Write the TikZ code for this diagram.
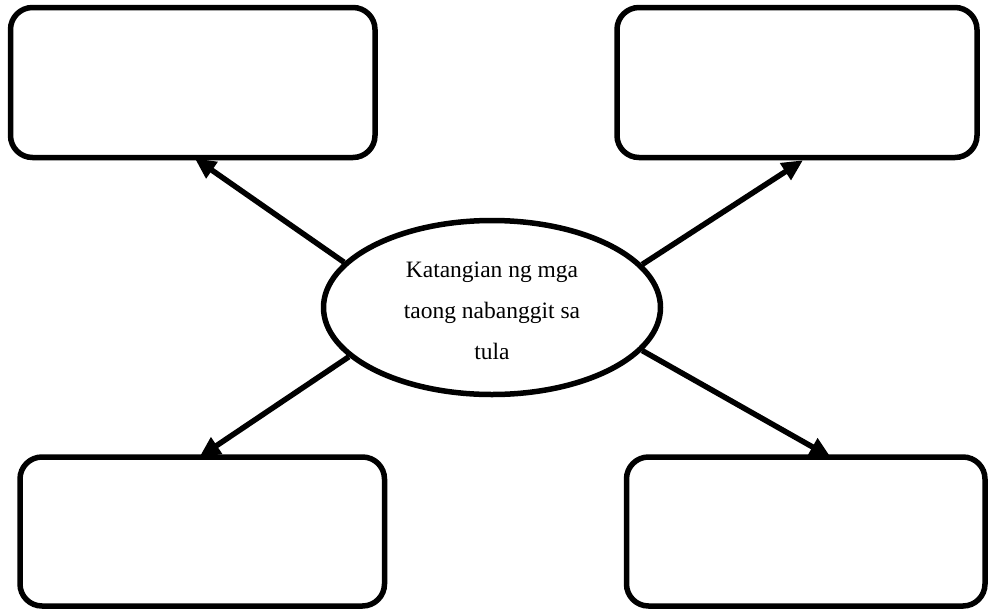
\documentclass[tikz,border=0pt]{standalone}
\usepackage{fontspec}
\setmainfont{Liberation Serif}
\usetikzlibrary{arrows.meta,shapes.geometric}
\pgfdeclarelayer{bg}
\pgfsetlayers{bg,main}
\begin{document}
\begin{tikzpicture}[x=1pt,y=-1pt,
  box/.style={draw=black,line width=5.5pt,rounded corners=22pt,inner sep=0pt,fill=none},
  oval/.style={draw=black,ellipse,line width=5.5pt,inner sep=0pt,minimum width=337pt,minimum height=174pt},
  conn/.style={line width=5.5pt,-{Triangle[length=21pt,width=19pt]}},
  lbltext/.style={align=center,inner sep=0pt,font=\fontsize{23.5}{41}\selectfont}]
\begin{pgfonlayer}{bg}
\fill[white] (0,0) rectangle (988,611);
\end{pgfonlayer}
\useasboundingbox (0,0) rectangle (988,611);
\node[oval] (el) at (492,307.5) {};
\node[lbltext] (lbl) at (492,311) {Katangian ng mga\\taong nabanggit sa\\tula};
\node[box,minimum width=364.5pt,minimum height=150pt] (tl) at (192.75,82.5) {};
\node[box,minimum width=360pt,minimum height=150pt] (tr) at (797,82.5) {};
\node[box,minimum width=364.5pt,minimum height=149pt] (bl) at (202.25,531.5) {};
\node[box,minimum width=358.5pt,minimum height=149pt] (br) at (805.75,531.5) {};
\coordinate (tlend) at ([xshift=2pt,yshift=2pt]tl.south);
\coordinate (trend) at ([xshift=6pt]tr.south);
\coordinate (blend) at ([xshift=-3pt,yshift=-3pt]bl.north);
\coordinate (brend) at ([xshift=25pt,yshift=-3pt]br.north);
\begin{pgfonlayer}{bg}
\draw[conn] (el.163.7) -- (tlend);
\draw[conn] (el.16.4) -- (trend);
\draw[conn] (el.199.9) -- (blend);
\draw[conn] (el.344) -- (brend);
\end{pgfonlayer}
\end{tikzpicture}
\end{document}
